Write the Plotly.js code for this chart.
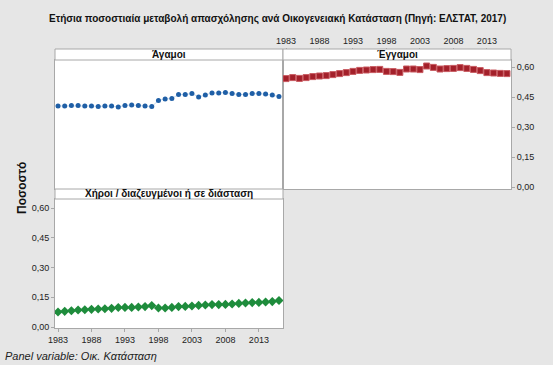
<!DOCTYPE html>
<html>
<head>
<meta charset="utf-8">
<script src="https://cdn.plot.ly/plotly-3.0.1.min.js"></script>
<style>html,body{margin:0;padding:0;background:#e6e6e6;}#chart{width:553px;height:365px;}</style>
</head>
<body>
<div id="chart"></div>
<script>
const years = [1983,1984,1985,1986,1987,1988,1989,1990,1991,1992,1993,1994,1995,1996,1997,1998,1999,2000,2001,2002,2003,2004,2005,2006,2007,2008,2009,2010,2011,2012,2013,2014,2015,2016];
const agamoi = [0.405,0.405,0.407,0.407,0.405,0.405,0.403,0.405,0.405,0.400,0.408,0.410,0.408,0.405,0.402,0.433,0.440,0.443,0.462,0.462,0.468,0.450,0.460,0.470,0.470,0.473,0.467,0.462,0.463,0.467,0.467,0.465,0.460,0.452];
const eggamoi = [0.542,0.547,0.543,0.547,0.552,0.555,0.557,0.562,0.567,0.572,0.578,0.583,0.585,0.587,0.588,0.578,0.577,0.573,0.590,0.590,0.587,0.605,0.598,0.590,0.592,0.593,0.597,0.593,0.588,0.582,0.572,0.570,0.568,0.567];
const xiroi = [0.076,0.079,0.082,0.086,0.087,0.089,0.091,0.092,0.094,0.098,0.099,0.099,0.101,0.103,0.108,0.096,0.096,0.099,0.103,0.104,0.106,0.109,0.111,0.113,0.113,0.114,0.116,0.119,0.121,0.123,0.124,0.126,0.128,0.134];
const panelNames = ['Άγαμοι','Έγγαμοι','Χήροι / διαζευγμένοι ή σε διάσταση'];
const xTickVals = [1983,1988,1993,1998,2003,2008,2013];
const xTickText = ['1983','1988','1993','1998','2003','2008','2013'];
const yTickVals = [0,0.15,0.30,0.45,0.60];
const yTickText = ['0,00','0,15','0,30','0,45','0,60'];

const W = 553, H = 365;
const px = v => v / W;
const py = v => 1 - v / H;

const FF = 'Liberation Sans, Arial, sans-serif';
const tickFont = {family: FF, size: 9, color: '#222'};
const xr = [1982.55, 2016.6];

const traces = [
  {x: years, y: xiroi, xaxis: 'x', yaxis: 'y', mode: 'lines+markers',
   line: {color: '#bfe0c8', width: 1}, marker: {symbol: 'diamond', size: 7, color: '#1e8c3c'}},
  {x: years, y: agamoi, xaxis: 'x2', yaxis: 'y2', mode: 'lines+markers',
   line: {color: '#c8dcf0', width: 1}, marker: {symbol: 'circle', size: 5, color: '#1f5fa6'}},
  {x: years, y: eggamoi, xaxis: 'x3', yaxis: 'y3', mode: 'lines+markers',
   line: {color: '#e8c4c4', width: 1}, marker: {symbol: 'square', size: 6, color: '#a3202a', line: {color: '#c85a60', width: 1}}}
];

const axLine = {showline: true, mirror: true, linecolor: '#a8a8a8', linewidth: 1, showgrid: false, zeroline: false};

function ann(text, x, y, size, extra) {
  return Object.assign({text: text, xref: 'paper', yref: 'paper', x: px(x), y: py(y), xanchor: 'center', yanchor: 'middle',
    showarrow: false, font: {family: FF, size: size, color: '#111'}}, extra || {});
}

const layout = {
  width: W, height: H,
  margin: {l: 0, r: 0, t: 0, b: 0},
  paper_bgcolor: '#e6e6e6', plot_bgcolor: '#ffffff',
  showlegend: false,
  separators: ',.',
  xaxis: Object.assign({}, axLine, {domain: [px(55), px(283)], range: xr, anchor: 'y',
    tickvals: xTickVals, ticktext: xTickText, ticks: 'outside', ticklen: 3, tickcolor: '#a8a8a8', tickfont: tickFont}),
  yaxis: Object.assign({}, axLine, {domain: [py(328), py(199)], range: [-0.005, 0.6455], anchor: 'x',
    tickvals: yTickVals, ticktext: yTickText, ticks: 'outside', ticklen: 3, tickcolor: '#a8a8a8', tickfont: tickFont}),
  xaxis2: Object.assign({}, axLine, {domain: [px(55), px(283)], range: xr, anchor: 'y2', showticklabels: false}),
  yaxis2: Object.assign({}, axLine, {domain: [py(189), py(60)], range: [-0.01, 0.635], anchor: 'x2', showticklabels: false}),
  xaxis3: Object.assign({}, axLine, {domain: [px(283), px(511)], range: xr, anchor: 'y3', side: 'top',
    tickvals: xTickVals, ticktext: xTickText, ticks: 'outside', ticklen: 11, tickcolor: '#a8a8a8', tickfont: tickFont}),
  yaxis3: Object.assign({}, axLine, {domain: [py(189), py(60)], range: [-0.01, 0.635], anchor: 'x3', side: 'right',
    tickvals: yTickVals, ticktext: yTickText, ticks: 'outside', ticklen: 3, tickcolor: '#a8a8a8', tickfont: tickFont}),
  shapes: [
    {type: 'rect', xref: 'paper', yref: 'paper', layer: 'above', x0: px(55), x1: px(283), y0: py(60), y1: py(49), fillcolor: '#ffffff', line: {color: '#a8a8a8', width: 1}},
    {type: 'rect', xref: 'paper', yref: 'paper', layer: 'above', x0: px(283), x1: px(511), y0: py(60), y1: py(49), fillcolor: '#ffffff', line: {color: '#a8a8a8', width: 1}},
    {type: 'rect', xref: 'paper', yref: 'paper', layer: 'above', x0: px(55), x1: px(283), y0: py(199), y1: py(189), fillcolor: '#ffffff', line: {color: '#a8a8a8', width: 1}}
  ],
  annotations: [
    ann('<b>Ετήσια ποσοστιαία μεταβολή απασχόλησης ανά Οικογενειακή Κατάσταση (Πηγή: ΕΛΣΤΑΤ, 2017)</b>', 277, 19, 10),
    ann('<b>' + panelNames[0] + '</b>', 169, 54.5, 10),
    ann('<b>' + panelNames[1] + '</b>', 397, 54.5, 10),
    ann('<b>' + panelNames[2] + '</b>', 169, 194, 10),
    ann('<b>Ποσοστό</b>', 22, 188, 12, {textangle: -90}),
    ann('<i>Panel variable: Οικ. Κατάσταση</i>', 3, 356, 11, {xanchor: 'left', font: {family: FF, size: 11, color: '#222'}})
  ]
};

Plotly.newPlot('chart', traces, layout, {displayModeBar: false, staticPlot: true});
</script>
</body>
</html>
